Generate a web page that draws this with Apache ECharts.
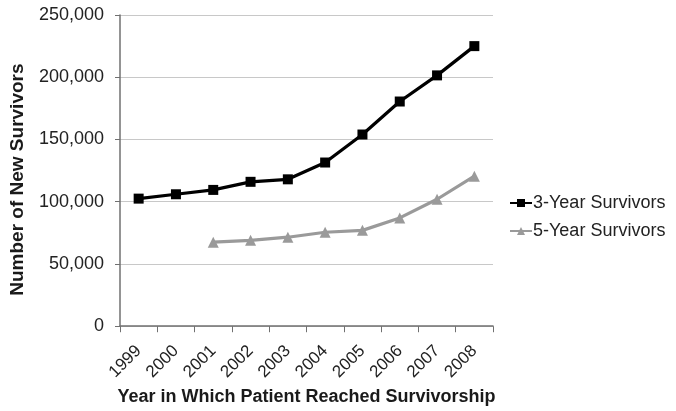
<!DOCTYPE html>
<html><head><meta charset="utf-8">
<script src="https://cdn.jsdelivr.net/npm/echarts@6/dist/echarts.min.js"></script>
<style>html,body{margin:0;padding:0;background:#fff}#c{width:676px;height:411px}</style>
</head><body><div id="c"></div>
<script>
var years = ['1999','2000','2001','2002','2003','2004','2005','2006','2007','2008'];
var threeYear = [102500, 106000, 109500, 116000, 118000, 131500, 154000, 180500, 201500, 225000];
var fiveYear = [null, null, 67500, 69000, 71500, 75500, 77000, 87000, 102000, 120500];
var yTicks = [0, 50000, 100000, 150000, 200000, 250000];

var chart = echarts.init(document.getElementById('c'));
var font = 'Liberation Sans, Arial, sans-serif';
chart.setOption({
  animation: false,
  textStyle: {fontFamily: font},
  grid: {left: 120, right: 183, top: 15, bottom: 83, containLabel: false},
  legend: {
    orient: 'vertical', left: 504, top: 189, itemGap: 10,
    itemWidth: 22, itemHeight: 10,
    textStyle: {fontSize: 18, color: '#222', fontFamily: font, padding: [0,0,0,-4]},
    data: ['3-Year Survivors', '5-Year Survivors']
  },
  xAxis: {
    type: 'category', data: years, boundaryGap: true,
    name: 'Year in Which Patient Reached Survivorship', nameLocation: 'middle', nameGap: 61,
    nameTextStyle: {fontSize: 18, fontWeight: 'bold', color: '#1a1a1a', fontFamily: font},
    axisLine: {lineStyle: {color: '#707070', width: 1.5}},
    axisTick: {show: true, length: 6, lineStyle: {color: '#707070'}},
    axisLabel: {rotate: 45, fontSize: 17, color: '#222', margin: 22, fontFamily: font}
  },
  yAxis: {
    type: 'value', min: 0, max: yTicks[yTicks.length-1], interval: 50000,
    name: 'Number of New Survivors', nameLocation: 'middle', nameGap: 93,
    nameTextStyle: {fontSize: 19, fontWeight: 'bold', color: '#1a1a1a', fontFamily: font,
      padding: [0, 18, 0, 0]},
    axisLine: {show: true, lineStyle: {color: '#707070', width: 1.5}},
    axisTick: {show: true, length: 5, lineStyle: {color: '#707070'}},
    splitLine: {lineStyle: {color: '#c8c8c8', width: 1}},
    axisLabel: {fontSize: 18, color: '#222', margin: 16, fontFamily: font,
      formatter: function(v){ return v.toLocaleString('en-US'); }}
  },
  series: [
    {name: '3-Year Survivors', type: 'line', data: threeYear,
     symbol: 'rect', symbolSize: 10,
     lineStyle: {color: '#000', width: 3.2}, itemStyle: {color: '#000'}},
    {name: '5-Year Survivors', type: 'line', data: fiveYear,
     symbol: 'triangle', symbolSize: 11,
     lineStyle: {color: '#9a9a9a', width: 3.2}, itemStyle: {color: '#9a9a9a'}}
  ]
});
</script></body></html>
